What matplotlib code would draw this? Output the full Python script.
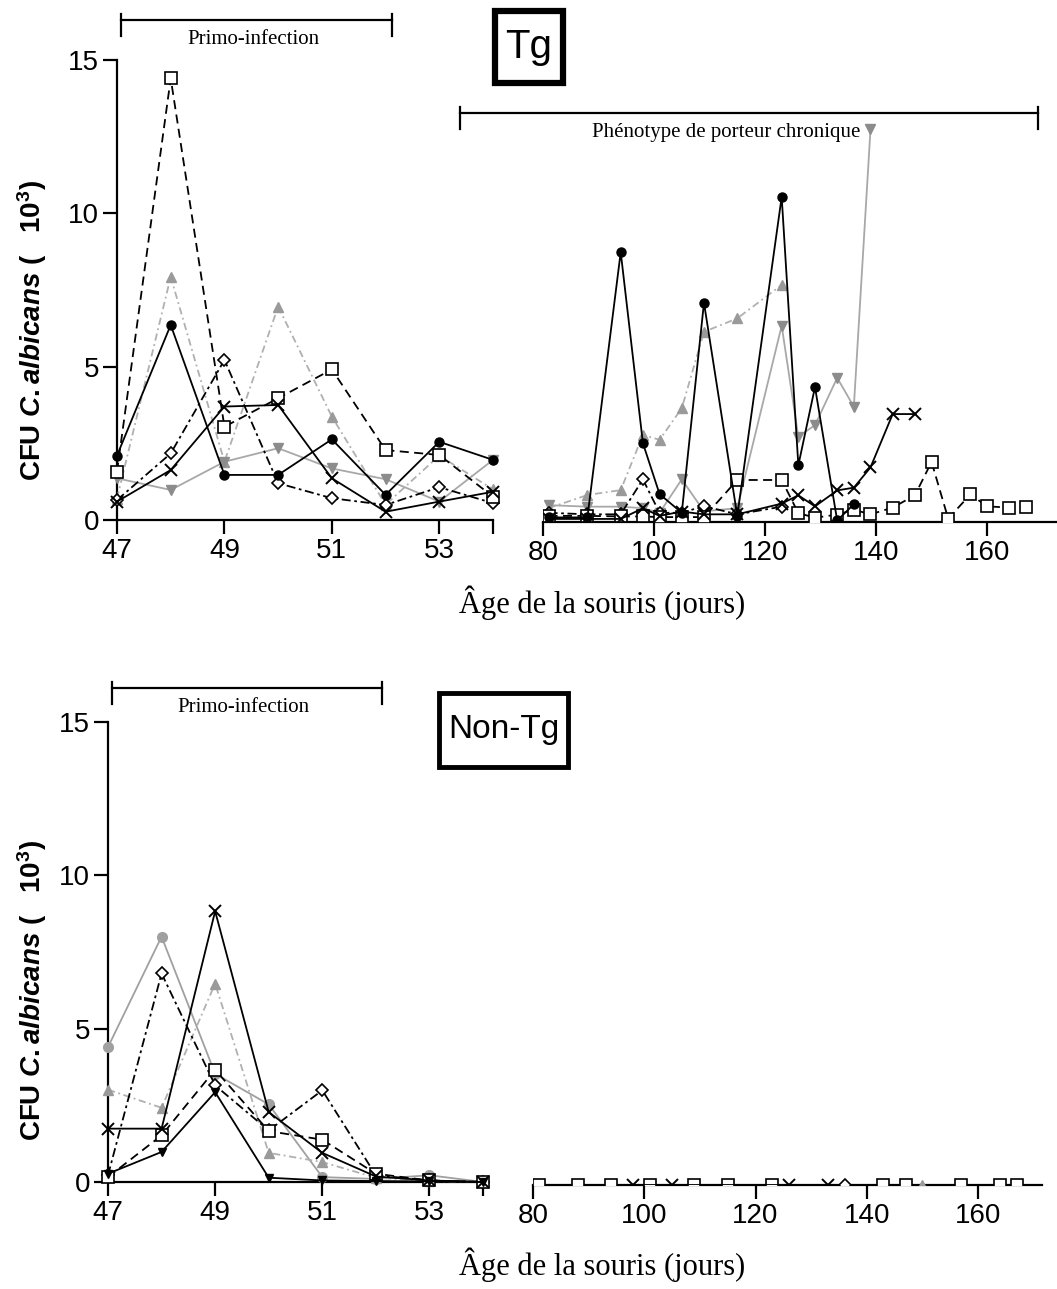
import matplotlib
matplotlib.use("Agg")
import matplotlib.pyplot as plt
from matplotlib.lines import Line2D
from matplotlib.patches import Rectangle

plt.rcParams['font.family'] = ['Liberation Sans', 'DejaVu Sans']
plt.rcParams['mathtext.fontset'] = 'custom'
plt.rcParams['mathtext.rm'] = 'Liberation Sans:bold'
plt.rcParams['mathtext.it'] = 'Liberation Sans:bold:italic'
plt.rcParams['mathtext.bf'] = 'Liberation Sans:bold'

# ---- data (CFU x 10^3) ----
early_days = [47, 48, 49, 50, 51, 52, 53, 54]
early_ticks = [47, 49, 51, 53, 54]
early_ticklabels = ['47', '49', '51', '53', '']
late_ticks = [80, 100, 120, 140, 160]
y_ticks = [0, 5, 10, 15]

# Tg, primo-infection
tg_circle_early = [2.1, 6.36, 1.47, 1.47, 2.63, 0.82, 2.55, 1.96]
tg_square_early = [1.58, 14.4, 3.04, 3.97, 4.91, 2.28, 2.12, 0.76]
tg_up_early = [0.7, 7.93, 1.9, 6.96, 3.37, 0.5, 2.1, 1.0]
tg_diamond_early = [0.65, 2.17, 5.22, 1.2, 0.71, 0.49, 1.07, 0.55]
tg_cross_early = [0.6, 1.63, 3.7, 3.75, 1.36, 0.27, 0.6, 0.92]
tg_down_early = [1.36, 0.98, 1.9, 2.34, 1.68, 1.33, 0.6, 1.96]

# Tg, chronic carriage
tg_circle_late_days = [81, 88, 94, 98, 101, 105, 109, 115, 123, 126, 129, 133, 136]
tg_circle_late = [0.15, 0.15, 8.8, 2.57, 0.91, 0.3, 7.15, 0.2, 10.6, 1.85, 4.4, 0.05, 0.58]
tg_up_late_days = [81, 88, 94, 98, 101, 105, 109, 115, 123]
tg_up_late = [0.45, 0.88, 1.04, 2.84, 2.68, 3.71, 6.2, 6.64, 7.73]
tg_down_late_days = [81, 88, 94, 98, 101, 105, 109, 115, 123, 126, 129, 133, 136, 139]
tg_down_late = [0.55, 0.5, 0.5, 0.45, 0.3, 1.39, 0.35, 0.45, 6.4, 2.78, 3.16, 4.7, 3.76, 12.8]
tg_cross_late_days = [81, 88, 94, 98, 101, 105, 109, 115, 123, 126, 129, 133, 136, 139, 143, 147]
tg_cross_late = [0.1, 0.1, 0.1, 0.45, 0.2, 0.34, 0.25, 0.25, 0.6, 0.87, 0.51, 1.03, 1.12, 1.78, 3.52, 3.52]
tg_square_late_days = [81, 88, 94, 98, 101, 105, 109, 115, 123, 126, 129, 133, 136, 139,
                       143, 147, 150, 153, 157, 160, 164, 167]
tg_square_late = [0.2, 0.2, 0.18, 0.18, 0.16, 0.16, 0.16, 1.37, 1.37, 0.29, 0.14, 0.24, 0.40, 0.25,
                  0.47, 0.87, 1.96, 0.11, 0.9, 0.51, 0.47, 0.49]
tg_diamond_late_days = [81, 88, 94, 98, 101, 105, 109, 115, 123]
tg_diamond_late = [0.3, 0.25, 0.25, 1.39, 0.3, 0.3, 0.52, 0.25, 0.5]

# Non-Tg, primo-infection
ntg_gcircle_early = [4.4, 8.0, 3.53, 2.53, 0.16, 0.1, 0.22, 0.0]
ntg_diamond_early = [0.22, 6.8, 3.15, 1.68, 2.99, 0.22, 0.05, 0.0]
ntg_cross_early = [1.74, 1.74, 8.83, 2.28, 0.95, 0.18, 0.05, 0.0]
ntg_up_early = [3.01, 2.42, 6.47, 0.95, 0.65, 0.14, 0.03, 0.0]
ntg_square_early = [0.16, 1.52, 3.66, 1.66, 1.38, 0.27, 0.05, 0.0]
ntg_down_early = [0.27, 0.98, 2.93, 0.14, 0.05, 0.03, 0.02, 0.0]

# Non-Tg, later: everything at zero
ntg_square_late_days = [81, 88, 94, 101, 109, 115, 123, 143, 147, 157, 164, 167]
ntg_square_late = [0, 0, 0, 0, 0, 0, 0, 0, 0, 0, 0, 0]
ntg_cross_late_days = [98, 105, 126, 133]
ntg_cross_late = [0, 0, 0, 0]
ntg_diamond_late_days = [136]
ntg_diamond_late = [0]
ntg_up_late_days = [150]
ntg_up_late = [0]

# ---- styles ----
DASH = (0, (5, 3))
DASHDOT = (0, (5, 2, 1.5, 2))
LIGHT = (0, (4, 2, 1, 2))
styles = {
    'circle': dict(color='black', ls='-', marker='o', ms=6.5, mfc='black', mec='black'),
    'square': dict(color='black', ls=DASH, marker='s', ms=8, mfc='white', mec='black', mew=1.2),
    'up': dict(color='#b0b0b0', ls=LIGHT, marker='^', ms=7, mfc='#9a9a9a', mec='#9a9a9a'),
    'diamond': dict(color='black', ls=DASHDOT, marker='D', ms=6, mfc='white', mec='black', mew=1.2),
    'cross': dict(color='black', ls='-', marker='x', ms=8, mew=1.4),
    'down': dict(color='#a8a8a8', ls='-', marker='v', ms=7, mfc='#8c8c8c', mec='#8c8c8c'),
    'gcircle': dict(color='#a0a0a0', ls='-', marker='o', ms=7, mfc='#a0a0a0', mec='#a0a0a0'),
    'bdown': dict(color='black', ls='-', marker='v', ms=5.5, mfc='black', mec='black'),
}

W, H = 1057, 1289
fig = plt.figure(figsize=(W / 100, H / 100), dpi=100)


def px_axes(x0, x1, ytop, ybot):
    return fig.add_axes([x0 / W, 1 - ybot / H, (x1 - x0) / W, (ybot - ytop) / H])


def style_axes(ax, xlim, ticks, labels, left=True):
    ax.set_xlim(*xlim)
    ax.set_ylim(0, 15)
    ax.spines['top'].set_visible(False)
    ax.spines['right'].set_visible(False)
    for s in ax.spines.values():
        s.set_linewidth(1.6)
    ax.set_xticks(ticks)
    ax.set_xticklabels(labels)
    ax.tick_params(axis='both', direction='out', length=10, width=1.6, labelsize=20, pad=3)
    if left:
        ax.set_yticks(y_ticks)
    else:
        ax.spines['left'].set_visible(False)
        ax.set_yticks([])


def draw(ax, x, y, key, clip):
    ax.plot(x, y, lw=1.3, clip_on=clip, zorder=3, **styles[key])


ax1 = px_axes(117, 493, 60, 520)
ax2 = px_axes(543, 1057, 62, 522)
ax3 = px_axes(108, 483, 722, 1182)
ax4 = px_axes(533, 1042, 725, 1185)

style_axes(ax1, (47, 54), early_ticks, early_ticklabels)
style_axes(ax2, (80, 172.6), late_ticks, [str(t) for t in late_ticks], left=False)
style_axes(ax3, (47, 54), early_ticks, early_ticklabels)
style_axes(ax4, (80, 171.5), late_ticks, [str(t) for t in late_ticks], left=False)

draw(ax1, early_days, tg_up_early, 'up', False)
draw(ax1, early_days, tg_down_early, 'down', False)
draw(ax1, early_days, tg_diamond_early, 'diamond', False)
draw(ax1, early_days, tg_square_early, 'square', False)
draw(ax1, early_days, tg_cross_early, 'cross', False)
draw(ax1, early_days, tg_circle_early, 'circle', False)

draw(ax2, tg_up_late_days, tg_up_late, 'up', True)
draw(ax2, tg_down_late_days, tg_down_late, 'down', True)
draw(ax2, tg_diamond_late_days, tg_diamond_late, 'diamond', True)
draw(ax2, tg_square_late_days, tg_square_late, 'square', True)
draw(ax2, tg_cross_late_days, tg_cross_late, 'cross', True)
draw(ax2, tg_circle_late_days, tg_circle_late, 'circle', True)

draw(ax3, early_days, ntg_gcircle_early, 'gcircle', False)
draw(ax3, early_days, ntg_up_early, 'up', False)
draw(ax3, early_days, ntg_diamond_early, 'diamond', False)
draw(ax3, early_days, ntg_square_early, 'square', False)
draw(ax3, early_days, ntg_cross_early, 'cross', False)
draw(ax3, early_days, ntg_down_early, 'bdown', False)

draw(ax4, ntg_square_late_days, ntg_square_late, 'square', True)
draw(ax4, ntg_cross_late_days, ntg_cross_late, 'cross', True)
draw(ax4, ntg_diamond_late_days, ntg_diamond_late, 'diamond', True)
draw(ax4, ntg_up_late_days, ntg_up_late, 'up', True)

# ---- annotations in figure pixels ----
def fline(xs, ys, lw=1.6):
    fig.add_artist(Line2D([x / W for x in xs], [1 - y / H for y in ys],
                          transform=fig.transFigure, color='black', lw=lw))


def bracket(x0, x1, y, label, tx, ty):
    fline([x0, x1], [y, y])
    fline([x0, x0], [y - 6, y + 16])
    fline([x1, x1], [y - 6, y + 16])
    fig.text(tx / W, 1 - ty / H, label, family='Liberation Serif',
             fontsize=15, ha='center', va='center')


bracket(121, 392, 20, 'Primo-infection', 253, 40)
bracket(460, 1038, 113, 'Phénotype de porteur chronique', 726, 132)
bracket(112, 382, 688, 'Primo-infection', 243, 708)


def label_box(x0, x1, y0, y1, text, size, lw):
    fig.add_artist(Rectangle((x0 / W, 1 - y1 / H), (x1 - x0) / W, (y1 - y0) / H,
                             transform=fig.transFigure, fill=False, ec='black', lw=lw))
    fig.text((x0 + x1) / 2 / W, 1 - (y0 + y1) / 2 / H, text, fontsize=size,
             ha='center', va='center')


label_box(495, 563, 11, 83, 'Tg', 29, 4.5)
label_box(439, 568, 693, 767, 'Non-Tg', 24, 3.5)

ylab = r'CFU $\mathit{C.albicans}$ (   $10^{3}$)'
for yc in (330, 990):
    fig.text(32 / W, 1 - yc / H, ylab, rotation=90, fontsize=20, fontweight='bold',
             ha='center', va='center')

for yc in (603, 1265):
    fig.text(602 / W, 1 - yc / H, 'Âge de la souris (jours)', family='Liberation Serif',
             fontsize=22, ha='center', va='center')

fig.savefig('out.png', dpi=100)
